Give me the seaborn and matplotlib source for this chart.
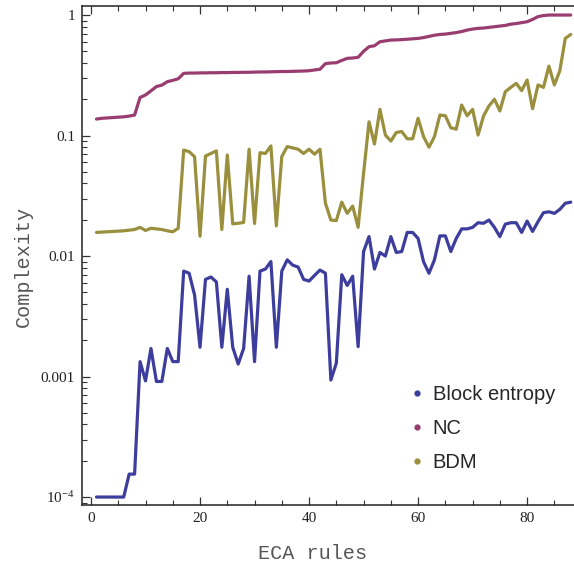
import numpy as np
import pandas as pd
import matplotlib
matplotlib.use('Agg')
import matplotlib.pyplot as plt
from matplotlib.lines import Line2D
from matplotlib.ticker import FixedLocator, LogLocator, FuncFormatter, MultipleLocator
import seaborn as sns

# --- DATA (x = ECA rule index 1..88)
rules = list(range(1, 89))

block_entropy = [
    1.0e-4, 1.0e-4, 1.0e-4, 1.0e-4, 1.0e-4, 1.0e-4, 1.55e-4, 1.55e-4, 1.33e-3, 9.2e-4,
    1.71e-3, 9.1e-4, 9.1e-4, 1.71e-3, 1.33e-3, 1.33e-3, 7.5e-3, 7.2e-3, 4.75e-3, 1.75e-3,
    6.4e-3, 6.7e-3, 6.1e-3, 1.75e-3, 5.3e-3, 1.75e-3, 1.27e-3, 1.71e-3, 6.8e-3, 1.33e-3,
    7.5e-3, 7.8e-3, 9.0e-3, 1.75e-3, 7.5e-3, 9.3e-3, 8.4e-3, 8.1e-3, 6.4e-3, 6.2e-3,
    6.9e-3, 7.65e-3, 7.2e-3, 9.35e-4, 1.29e-3, 7.0e-3, 5.7e-3, 6.8e-3, 1.77e-3, 0.0109,
    0.0145, 7.8e-3, 0.0107, 0.0100, 0.0145, 0.0107, 0.0109, 0.0157, 0.0157, 0.0140,
    8.97e-3, 7.2e-3, 9.3e-3, 0.0147, 0.0147, 0.0109, 0.0140, 0.0168, 0.0168, 0.0173,
    0.0189, 0.0187, 0.0199, 0.0173, 0.0145, 0.0184, 0.0189, 0.0189, 0.0157, 0.0195,
    0.0160, 0.0193, 0.0229, 0.0233, 0.0226, 0.0244, 0.0274, 0.0280,
]

nc = [
    0.137, 0.139, 0.140, 0.141, 0.142, 0.143, 0.145, 0.148, 0.207, 0.217,
    0.235, 0.255, 0.262, 0.280, 0.287, 0.296, 0.328, 0.330, 0.330, 0.331,
    0.331, 0.332, 0.332, 0.333, 0.333, 0.334, 0.334, 0.335, 0.335, 0.336,
    0.337, 0.337, 0.338, 0.339, 0.340, 0.340, 0.341, 0.342, 0.343, 0.345,
    0.350, 0.355, 0.395, 0.400, 0.402, 0.420, 0.437, 0.440, 0.446, 0.500,
    0.546, 0.556, 0.600, 0.610, 0.620, 0.622, 0.625, 0.630, 0.635, 0.640,
    0.650, 0.665, 0.680, 0.690, 0.695, 0.705, 0.715, 0.730, 0.750, 0.765,
    0.775, 0.780, 0.790, 0.800, 0.810, 0.820, 0.840, 0.850, 0.865, 0.880,
    0.920, 0.970, 0.990, 1.0, 1.0, 1.0, 1.0, 1.0,
]

bdm = [
    0.0157, 0.0158, 0.0159, 0.0160, 0.0161, 0.0162, 0.0164, 0.0166, 0.0173, 0.0163,
    0.0170, 0.0168, 0.0166, 0.0162, 0.0159, 0.0170, 0.0757, 0.0735, 0.0667, 0.0146,
    0.0676, 0.0710, 0.0746, 0.0166, 0.0690, 0.0185, 0.0187, 0.0190, 0.0770, 0.0186,
    0.0720, 0.0710, 0.0820, 0.0178, 0.0670, 0.0810, 0.0790, 0.0770, 0.0710, 0.0770,
    0.0700, 0.0770, 0.0275, 0.0199, 0.0197, 0.0280, 0.0226, 0.0260, 0.0173, 0.0486,
    0.130, 0.085, 0.165, 0.101, 0.090, 0.106, 0.108, 0.094, 0.094, 0.139,
    0.098, 0.080, 0.098, 0.148, 0.146, 0.116, 0.113, 0.179, 0.146, 0.165,
    0.101, 0.145, 0.176, 0.200, 0.160, 0.231, 0.251, 0.271, 0.236, 0.289,
    0.167, 0.263, 0.251, 0.377, 0.263, 0.345, 0.640, 0.690,
]

series_names = ['Block entropy', 'NC', 'BDM']
colors = ['#3D3D9E', '#993D70', '#998F3D']

df = pd.DataFrame({
    'rule': rules * 3,
    'value': block_entropy + nc + bdm,
    'measure': np.repeat(series_names, len(rules)),
})

# --- STYLE
sns.set_style('ticks')
plt.rcParams['mathtext.fontset'] = 'custom'
plt.rcParams['mathtext.rm'] = 'Liberation Serif'

fig = plt.figure(figsize=(5.74, 5.67), dpi=100)
ax = fig.add_axes([82/574, 62/567, 1 - 82/574, 499/567])

sns.lineplot(data=df, x='rule', y='value', hue='measure', hue_order=series_names,
             palette=colors, linewidth=2.3, legend=False, ax=ax)

ax.set_yscale('log')
ax.set_xlim(-1.65, 88.6)
ax.set_ylim(10**(-4.066), 10**(0.075))

ax.xaxis.set_major_locator(MultipleLocator(20))
ax.xaxis.set_minor_locator(MultipleLocator(5))
ax.yaxis.set_major_locator(FixedLocator([1e-4, 1e-3, 1e-2, 1e-1, 1]))
ax.yaxis.set_minor_locator(LogLocator(base=10, subs=np.arange(2, 10)))

ylabels = {1e-4: r'$\mathregular{10^{-4}}$', 1e-3: '0.001', 1e-2: '0.01', 1e-1: '0.1', 1: '1'}
ax.yaxis.set_major_formatter(FuncFormatter(lambda v, p: min(ylabels.items(), key=lambda kv: abs(np.log10(kv[0]) - np.log10(v)))[1]))
ax.yaxis.set_minor_formatter(FuncFormatter(lambda v, p: ''))

ax.tick_params(which='both', direction='in', top=True, right=False, color='#333333',
               labelsize=11, labelcolor='#222222', pad=5)
ax.tick_params(which='major', length=6, width=0.9)
ax.tick_params(which='minor', length=3.5, width=0.8)
for lab in ax.get_xticklabels() + ax.get_yticklabels():
    lab.set_family('Liberation Serif')

for side in ['left', 'bottom', 'top']:
    ax.spines[side].set_linewidth(1.1)
    ax.spines[side].set_color('#222222')
ax.spines['right'].set_visible(False)

ax.set_xlabel('ECA rules', family='Liberation Mono', fontsize=14.5, color='#555555')
ax.set_ylabel('Complexity', family='Liberation Mono', fontsize=14.5, color='#555555')
ax.xaxis.set_label_coords(0.4695, -0.078)
ax.yaxis.set_label_coords(-0.10, 0.479)

# --- LEGEND (dots only, like the reference)
handles = [Line2D([], [], linestyle='none', marker='o', markersize=3.5, color=c) for c in colors]
leg = ax.legend(handles, series_names, loc='upper left', bbox_to_anchor=(0.698, 0.335),
                bbox_transform=fig.transFigure, frameon=False, handlelength=0.8,
                handletextpad=0.4, labelspacing=0.75, borderaxespad=0,
                prop={'family': 'Liberation Sans', 'size': 14.5})

fig.savefig('out.png', dpi=100)
